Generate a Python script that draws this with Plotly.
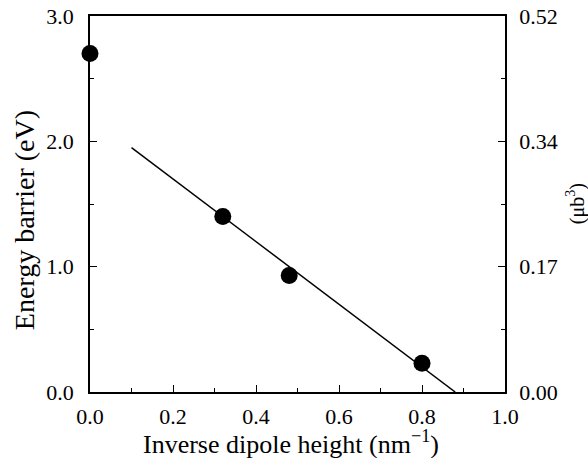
import plotly.graph_objects as go

# Data
inv_height = [0.0, 0.32, 0.48, 0.80]
energy_barrier = [2.70, 1.40, 0.93, 0.23]
fit_x = [0.10, 0.88]
fit_y = [1.95, 0.0]

y_tickvals = [0.0, 1.0, 2.0, 3.0]
y_left_text = ["0.0", "1.0", "2.0", "3.0"]
y_right_text = ["0.00", "0.17", "0.34", "0.52"]
x_tickvals = [0.0, 0.2, 0.4, 0.6, 0.8, 1.0]
x_ticktext = ["0.0", "0.2", "0.4", "0.6", "0.8", "1.0"]

FONT = "Liberation Serif, Times New Roman, serif"

fig = go.Figure()
fig.add_trace(go.Scatter(x=fit_x, y=fit_y, mode="lines",
                         line=dict(color="black", width=1.5), showlegend=False))
fig.add_trace(go.Scatter(x=inv_height, y=energy_barrier, mode="markers",
                         marker=dict(color="black", size=17), cliponaxis=False,
                         showlegend=False))
fig.add_trace(go.Scatter(x=[0.5], y=[1.0], yaxis="y2", mode="markers",
                         marker=dict(opacity=0), showlegend=False, hoverinfo="skip"))

axis_common = dict(showgrid=False, zeroline=False, linecolor="black", linewidth=1.5,
                   ticks="inside", ticklen=7, tickwidth=1.2, tickcolor="black",
                   automargin=False, ticklabeloverflow="allow",
                   tickfont=dict(family=FONT, size=22, color="black"))

minor_y = dict(dtick=0.5, tick0=0, ticks="inside", ticklen=4, tickcolor="black")

fig.update_layout(
    width=588, height=458,
    margin=dict(l=90, r=83, t=16, b=66),
    paper_bgcolor="white", plot_bgcolor="white",
    font=dict(family=FONT, size=22, color="black"),
    xaxis=dict(range=[0, 1], tickmode="array", tickvals=x_tickvals, ticktext=x_ticktext,
               mirror=True, ticklabelstandoff=4,
               minor=dict(dtick=0.1, tick0=0, ticks="inside", ticklen=4, tickcolor="black"),
               **axis_common),
    yaxis=dict(range=[0, 3.0], tickmode="array", tickvals=y_tickvals, ticktext=y_left_text,
               ticklabelstandoff=10, minor=minor_y, **axis_common),
    yaxis2=dict(range=[0, 3.0], overlaying="y", side="right", tickmode="array",
                tickvals=y_tickvals, ticktext=y_right_text, showline=True,
                ticklabelstandoff=8, minor=minor_y, **axis_common),
    annotations=[
        dict(text="Energy barrier (eV)", xref="paper", yref="paper",
             x=-0.159, y=0.457, textangle=-90, showarrow=False,
             font=dict(family=FONT, size=28), xanchor="center", yanchor="middle"),
        dict(text="(μb<sup>3</sup>)", xref="paper", yref="paper",
             x=1.169, y=0.5, textangle=-90, showarrow=False,
             font=dict(family=FONT, size=20), xanchor="center", yanchor="middle"),
        dict(text="Inverse dipole height (nm<sup>−1</sup>)", xref="paper", yref="paper",
             x=0.484, y=-0.134, showarrow=False,
             font=dict(family=FONT, size=26), xanchor="center", yanchor="middle"),
    ],
)

fig.write_html("out.html", config={"displayModeBar": False},
               post_script="document.body.style.margin='0';document.body.style.overflow='hidden';")
